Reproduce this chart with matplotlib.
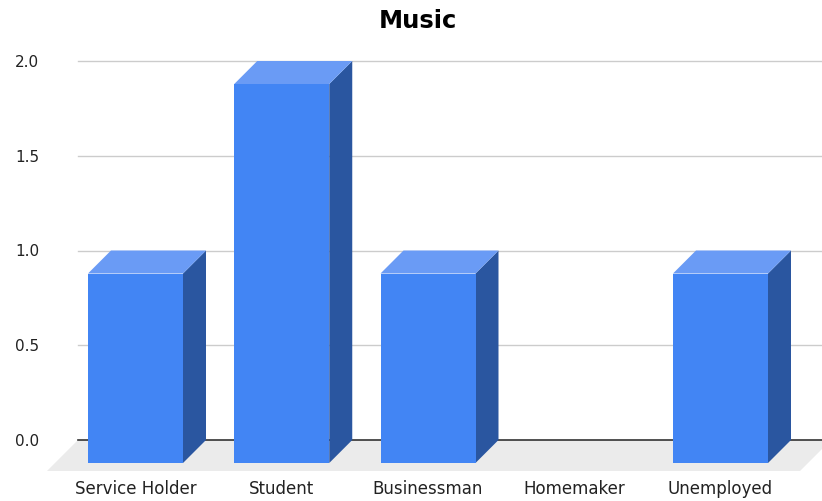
import matplotlib
matplotlib.use("Agg")
import matplotlib.pyplot as plt
from matplotlib.patches import Polygon

plt.rcParams["font.family"] = ["DejaVu Sans"]

# Data
categories = ["Service Holder", "Student", "Businessman", "Homemaker", "Unemployed"]
values = [1, 2, 1, 0, 1]
y_ticks = [0.0, 0.5, 1.0, 1.5, 2.0]
title = "Music"

# Colours
front_color = "#4285f4"
top_color = "#6a9bf5"
side_color = "#2a56a0"
floor_color = "#ebebeb"
grid_color = "#cccccc"

W, H = 822, 501
fig = plt.figure(figsize=(W / 100, H / 100), dpi=100)

# back plane of the 3D plot in pixels
left_px, right_px = 78, 831
top_px, base_px = 61, 440
ax = fig.add_axes([left_px / W, (H - base_px) / H,
                   (right_px - left_px) / W, (base_px - top_px) / H])

spacing_px = 146.25
first_center_px = 158.5
px_per_unit = (base_px - top_px) / 2.0
xmin = (left_px - first_center_px) / spacing_px
xmax = (right_px - first_center_px) / spacing_px
ax.set_xlim(xmin, xmax)
ax.set_ylim(0, 2)

# depth offsets in data units
depth_px = 23
dx = depth_px / spacing_px
dy = depth_px / px_per_unit
floor_px = 31
fdx = floor_px / spacing_px
fdy = floor_px / px_per_unit
bar_w = 95 / spacing_px

for s in ax.spines.values():
    s.set_visible(False)

# floor
floor = Polygon([(xmin, 0), (xmax, 0), (xmax - fdx, -fdy), (xmin - fdx, -fdy)],
                closed=True, facecolor=floor_color, edgecolor="none",
                clip_on=False, zorder=1)
ax.add_patch(floor)

# gridlines and baseline
for t in y_ticks[1:]:
    ax.axhline(t, color=grid_color, lw=1.0, zorder=0.5, clip_on=False)
ax.axhline(0, color="#333333", lw=1.2, zorder=1.5, clip_on=False)

# bars
for i, v in enumerate(values):
    if v <= 0:
        continue
    c = i
    fl = c - dx - bar_w / 2
    fr = c - dx + bar_w / 2
    bl = c - bar_w / 2
    br = c + bar_w / 2
    front = Polygon([(fl, -dy), (fr, -dy), (fr, v - dy), (fl, v - dy)],
                    closed=True, facecolor=front_color, edgecolor="none",
                    clip_on=False, zorder=3)
    top = Polygon([(fl, v - dy), (fr, v - dy), (br, v), (bl, v)],
                  closed=True, facecolor=top_color, edgecolor="none",
                  clip_on=False, zorder=3)
    side = Polygon([(fr, -dy), (br, 0), (br, v), (fr, v - dy)],
                   closed=True, facecolor=side_color, edgecolor="none",
                   clip_on=False, zorder=3)
    for p in (side, top, front):
        ax.add_patch(p)

# axes labels
ax.set_yticks(y_ticks)
ax.set_yticklabels([f"{t:.1f}" for t in y_ticks])
ax.set_xticks([i - dx for i in range(len(categories))])
ax.set_xticklabels(categories)
ax.tick_params(axis="y", length=0, pad=28, labelsize=11, labelcolor="#222222")
ax.tick_params(axis="x", length=0, pad=29, labelsize=12, labelcolor="#222222")

fig.text(418 / W, 1 - 21 / H, title, ha="center", va="center",
         fontsize=17.5, fontweight="bold", color="black")

fig.savefig("out.png", dpi=100)
